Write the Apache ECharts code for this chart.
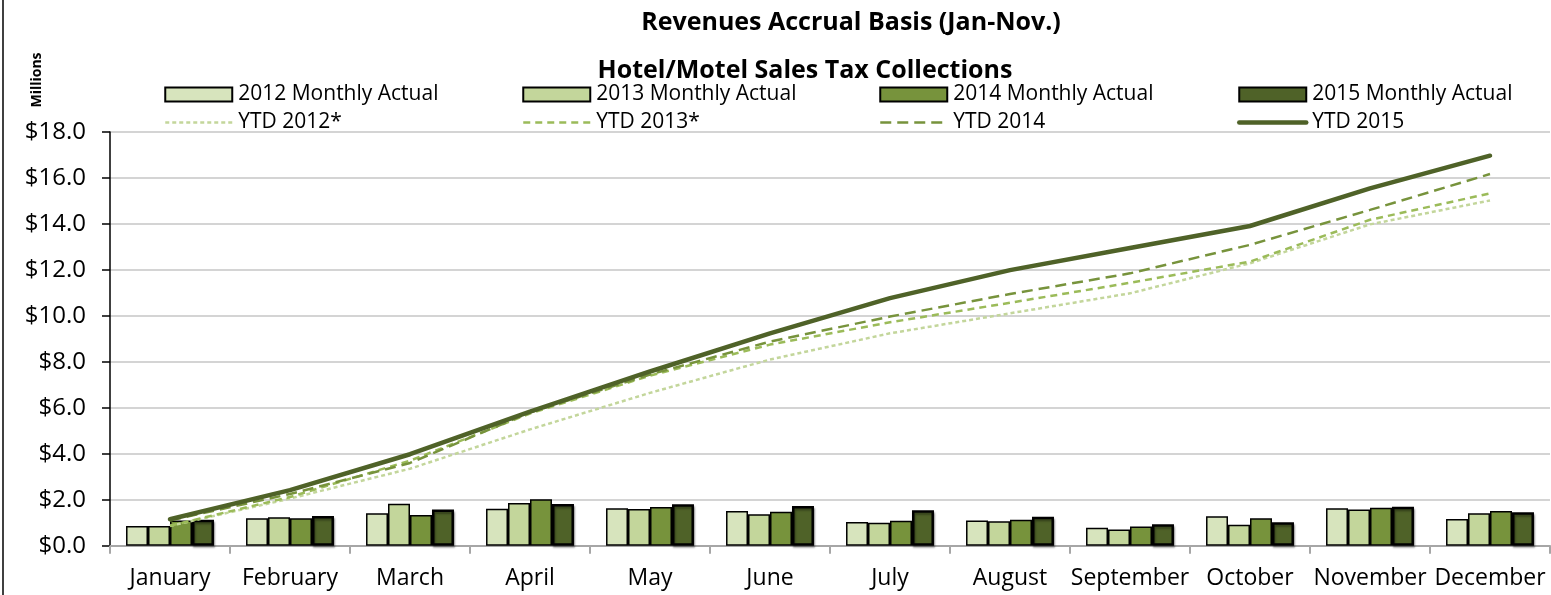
<!DOCTYPE html>
<html>
<head>
<meta charset="utf-8">
<script src="https://cdn.jsdelivr.net/npm/echarts@6/dist/echarts.min.js"></script>
<style>
html,body{margin:0;padding:0;background:#fff;}
#chart{width:1551px;height:595px;}
</style>
</head>
<body>
<div id="chart"></div>
<script>
const months = ['January','February','March','April','May','June','July','August','September','October','November','December'];
const actual2012 = [0.86,1.19,1.41,1.61,1.63,1.51,1.03,1.10,0.78,1.28,1.63,1.16];
const actual2013 = [0.86,1.24,1.83,1.86,1.60,1.37,1.00,1.06,0.71,0.91,1.58,1.41];
const actual2014 = [1.10,1.19,1.34,2.02,1.68,1.48,1.09,1.13,0.84,1.19,1.65,1.51];
const actual2015 = [1.13,1.29,1.58,1.81,1.80,1.73,1.54,1.26,0.93,1.02,1.70,1.45];
const ytd2012 = [0.86,2.05,3.35,5.06,6.65,8.10,9.24,10.11,10.98,12.29,13.98,15.02];
const ytd2013 = [0.87,2.12,3.70,5.75,7.40,8.75,9.72,10.57,11.44,12.36,14.18,15.33];
const ytd2014 = [1.10,2.25,3.60,5.80,7.45,8.88,9.97,10.95,11.85,13.09,14.61,16.17];
const ytd2015 = [1.15,2.42,3.98,5.83,7.58,9.24,10.77,11.99,12.95,13.91,15.55,16.97];
const yTicks = [0,2,4,6,8,10,12,14,16,18];

const FONT = '"Open Sans", sans-serif';
const chart = echarts.init(document.getElementById('chart'), null, {renderer:'canvas'});

const lineStyles = {
  'YTD 2012*': {color:'#c3d69b', width:2.5, type:[4,3]},
  'YTD 2013*': {color:'#9bbb59', width:2.5, type:[7,5]},
  'YTD 2014':  {color:'#77933c', width:2.5, type:[11,6]},
  'YTD 2015':  {color:'#4f6228', width:4.5, cap:'round'}
};

function legendCol(left, barName, lineName){
  return {
    orient:'vertical', left:left, top:84, padding:0, itemWidth:67, itemHeight:14, itemGap:7,
    data:[{name:barName, icon:'rect'},
          {name:lineName, itemStyle:{opacity:0}, lineStyle:Object.assign({}, lineStyles[lineName])}],
    textStyle:{fontFamily:FONT, fontSize:21, lineHeight:19, color:'#000', padding:[0,0,0,1]},
    selectedMode:false
  };
}

const barBase = {type:'bar', barGap:'0%', barCategoryGap:'26.7%'};
function lineSeries(name, data, z){
  return {name:name, type:'line', data:data, symbol:'none', z:z,
    lineStyle:lineStyles[name], itemStyle:{color:lineStyles[name].color}};
}

chart.setOption({
  animation:false,
  backgroundColor:'#fff',
  title:[
    {text:'Revenues Accrual Basis (Jan-Nov.)', left:846, top:5, textAlign:'center',
     textStyle:{fontFamily:FONT, fontSize:25, fontWeight:'bold', color:'#000'}},
    {text:'Hotel/Motel Sales Tax Collections', left:800, top:53, textAlign:'center',
     textStyle:{fontFamily:FONT, fontSize:25, fontWeight:'bold', color:'#000'}}
  ],
  legend:[
    legendCol(164, '2012 Monthly Actual', 'YTD 2012*'),
    legendCol(522, '2013 Monthly Actual', 'YTD 2013*'),
    legendCol(879, '2014 Monthly Actual', 'YTD 2014'),
    legendCol(1237, '2015 Monthly Actual', 'YTD 2015')
  ],
  graphic:[
    {type:'rect', shape:{x:2, y:0, width:2, height:595}, style:{fill:'#404040'}},
    {type:'text', x:37, y:80, rotation:Math.PI/2,
     style:{text:'Millions', fontFamily:FONT, fontSize:14, fontWeight:'bold', fill:'#000',
       align:'center', verticalAlign:'middle'}}
  ],
  grid:{left:110, right:1, top:132, bottom:49.3, containLabel:false},
  xAxis:{
    type:'category', data:months, boundaryGap:true,
    axisLine:{lineStyle:{color:'#a6a6a6', width:2}},
    axisTick:{show:true, length:8, lineStyle:{color:'#a6a6a6', width:2}, alignWithLabel:false},
    axisLabel:{fontFamily:FONT, fontSize:23, color:'#000', margin:21, interval:0}
  },
  yAxis:{
    type:'value', min:0, max:18, interval:2,
    axisLine:{show:true, lineStyle:{color:'#000', width:1.5}},
    axisTick:{show:true, length:8, lineStyle:{color:'#000', width:1.5}},
    splitLine:{lineStyle:{color:'#d4d4d4', width:2}},
    axisLabel:{fontFamily:FONT, fontSize:24, color:'#000', margin:24,
      formatter:v=>'$'+v.toFixed(1)}
  },
  series:[
    Object.assign({name:'2012 Monthly Actual', data:actual2012,
      itemStyle:{color:'#d7e4bd', borderColor:'#000', borderWidth:1.5}}, barBase),
    Object.assign({name:'2013 Monthly Actual', data:actual2013,
      itemStyle:{color:'#c3d69b', borderColor:'#000', borderWidth:1.5}}, barBase),
    Object.assign({name:'2014 Monthly Actual', data:actual2014,
      itemStyle:{color:'#77933c', borderColor:'#000', borderWidth:1.5}}, barBase),
    Object.assign({name:'2015 Monthly Actual', data:actual2015,
      itemStyle:{color:'#4f6228', borderColor:'#000', borderWidth:2.5,
        shadowColor:'rgba(0,0,0,0.35)', shadowBlur:2, shadowOffsetX:1, shadowOffsetY:2}}, barBase),
    lineSeries('YTD 2012*', ytd2012, 5),
    lineSeries('YTD 2013*', ytd2013, 5),
    lineSeries('YTD 2014', ytd2014, 5),
    lineSeries('YTD 2015', ytd2015, 6)
  ]
});
</script>
</body>
</html>
